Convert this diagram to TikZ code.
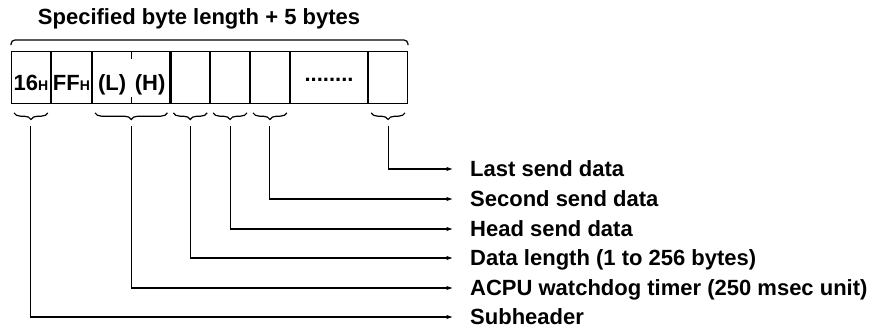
\documentclass[tikz,border=0pt]{standalone}
\usepackage{fontspec}
\setmainfont{Liberation Sans}
\usetikzlibrary{arrows.meta, positioning, decorations.pathreplacing}

\newcommand{\hsub}{{\fontsize{14}{14}\selectfont H}}

\begin{document}
\begin{tikzpicture}[
  x=1pt, y=-1pt,
  font=\fontsize{22}{24}\selectfont\bfseries,
  field/.style={rectangle, draw, line width=1.2pt, minimum width=38.6pt,
                minimum height=52pt, inner sep=0pt, text height=26pt,
                text depth=0pt},
  wide/.style={minimum width=77.2pt},
  brc/.style={decorate, decoration={brace, mirror, amplitude=6.6pt},
              line width=1.2pt},
  lbl/.style={anchor=west, inner xsep=17pt, inner ysep=0pt,
              text height=15.75pt, text depth=0pt},
  arr/.style={-{Latex[length=6.5pt,width=4.5pt]}, line width=1.1pt},
]
\useasboundingbox (0,0) rectangle (874,328);

% Title
\node[anchor=base] (title) at (199,25) {Specified byte length + 5 bytes};

% Frame fields
\node[field, anchor=north west] (f1) at (11,50.7) {16\hsub};
\node[field, right=0pt of f1, minimum width=40pt] (f2) {FF\hsub};
\node[field, wide, right=0pt of f2] (f3)
     {\makebox[38pt]{(L)}\makebox[38pt]{(H)}};
\node[field, right=0pt of f3] (f4) {};
\node[field, right=0pt of f4] (f5) {};
\node[field, right=0pt of f5] (f6) {};
\node[field, wide, right=0pt of f6] (f7) {\raisebox{9pt}{........}};
\node[field, right=0pt of f7] (f8) {};

% (L)/(H) split marks
\draw[line width=1.2pt] (f3.north) -- ++(0,8);
\draw[line width=1.2pt] (f3.south) -- ++(0,-7);

% Top brace
\draw[line width=1.2pt, rounded corners=4pt]
  ([yshift=5.5pt]f1.north west) -- ([yshift=10.7pt]f1.north west)
  -- ([yshift=10.7pt]f8.north east) -- ([yshift=5.5pt]f8.north east);

% Bottom braces
\foreach \f in {f1, f3, f4, f5, f6, f8} {
  \draw[brc] ([xshift=3pt,yshift=-9pt]\f.south west)
          -- ([xshift=-3pt,yshift=-9pt]\f.south east);
  \coordinate (t\f) at ([yshift=-22pt]\f.south);
}

% Labels
\node[lbl] (last)   at (453,169) {Last send data};
\node[lbl] (second) at (453,199) {Second send data};
\node[lbl] (head)   at (453,229) {Head send data};
\node[lbl] (dlen)   at (453,258) {Data length (1 to 256 bytes)};
\node[lbl] (wdt)    at (453,288) {ACPU watchdog timer (250 msec unit)};
\node[lbl] (subh)   at (453,317) {Subheader};

% Arrows
\draw[arr] (tf8) |- (last.west);
\draw[arr] (tf6) |- (second.west);
\draw[arr] (tf5) |- (head.west);
\draw[arr] (tf4) |- (dlen.west);
\draw[arr] (tf3) |- (wdt.west);
\draw[arr] (tf1) |- (subh.west);

\end{tikzpicture}
\end{document}
